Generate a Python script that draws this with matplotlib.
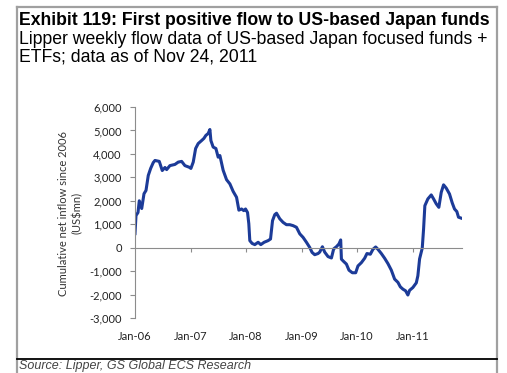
import matplotlib
matplotlib.use("Agg")
import matplotlib.pyplot as plt
from matplotlib.lines import Line2D

# weekly cumulative net inflow (US$mn), x as decimal years
years = [2006.000, 2006.018, 2006.054, 2006.077, 2006.121, 2006.162, 2006.198, 2006.239,
         2006.282, 2006.329, 2006.360, 2006.437, 2006.491, 2006.540, 2006.570, 2006.629,
         2006.719, 2006.779, 2006.840, 2006.899, 2006.977, 2007.007, 2007.049, 2007.092,
         2007.138, 2007.200, 2007.241, 2007.277, 2007.318, 2007.349, 2007.367, 2007.408,
         2007.457, 2007.498, 2007.529, 2007.588, 2007.649, 2007.709, 2007.768, 2007.829,
         2007.871, 2007.919, 2007.960, 2007.991, 2008.027, 2008.050, 2008.068, 2008.110,
         2008.158, 2008.218, 2008.266, 2008.326, 2008.397, 2008.441, 2008.477, 2008.518,
         2008.549, 2008.608, 2008.667, 2008.728, 2008.788, 2008.847, 2008.908, 2008.968,
         2009.027, 2009.088, 2009.147, 2009.189, 2009.237, 2009.297, 2009.327, 2009.376,
         2009.417, 2009.477, 2009.538, 2009.579, 2009.628, 2009.674, 2009.705, 2009.718,
         2009.759, 2009.808, 2009.854, 2009.915, 2009.975, 2010.016, 2010.077, 2010.137,
         2010.178, 2010.239, 2010.286, 2010.335, 2010.376, 2010.437, 2010.496, 2010.556,
         2010.617, 2010.676, 2010.736, 2010.779, 2010.826, 2010.874, 2010.915, 2010.946,
         2011.005, 2011.067, 2011.095, 2011.126, 2011.174, 2011.198, 2011.221, 2011.275,
         2011.336, 2011.378, 2011.426, 2011.473, 2011.516, 2011.558, 2011.606, 2011.665,
         2011.714, 2011.755, 2011.797, 2011.827, 2011.887]
flows = [600, 1370, 1500, 2000, 1670, 2300, 2440, 3080,
         3380, 3630, 3720, 3680, 3290, 3420, 3330, 3500,
         3550, 3650, 3680, 3500, 3430, 3380, 3650, 4230,
         4440, 4570, 4660, 4790, 4870, 5040, 4570, 4290,
         4230, 3860, 3930, 3300, 2900, 2720, 2400, 2150,
         1600, 1650, 1580, 1650, 1500, 1020, 300, 180,
         130, 230, 130, 230, 300, 370, 1150, 1410,
         1470, 1230, 1080, 980, 980, 940, 870, 590,
         440, 230, 10, -200, -300, -250, -190, 40,
         -190, -380, -440, -50, 40, 160, 330, -490,
         -590, -700, -960, -1070, -1070, -780, -640, -450,
         -250, -280, -70, 30, -70, -250, -450, -680,
         -960, -1340, -1480, -1670, -1770, -1840, -2020, -1820,
         -1700, -1500, -1200, -480, -20, 800, 1790, 2080,
         2250, 2080, 1870, 1720, 2360, 2680, 2540, 2290,
         1910, 1650, 1540, 1300, 1250]

xticks = [2006, 2007, 2008, 2009, 2010, 2011]
xlabels = ["Jan-06", "Jan-07", "Jan-08", "Jan-09", "Jan-10", "Jan-11"]
yticks = [-3000, -2000, -1000, 0, 1000, 2000, 3000, 4000, 5000, 6000]

W, H = 507, 373
fig = plt.figure(figsize=(W / 100, H / 100), dpi=100)


def fx(x):
    return x / W


def fy(y):
    return 1 - y / H


ax = fig.add_axes([fx(135), fy(318), fx(462) - fx(135), fy(107) - fy(318)])
ax.plot(years, flows, color="#1c3b98", lw=2.2, solid_joinstyle="round")
ax.set_xlim(2006, 2011.89)
ax.set_ylim(-3000, 6000)

axis_grey = "#8c8c8c"
for s in ["top", "right"]:
    ax.spines[s].set_visible(False)
ax.spines["left"].set_color(axis_grey)
ax.spines["bottom"].set_color(axis_grey)
ax.spines["bottom"].set_position(("data", 0))
ax.set_xticks(xticks[1:])
ax.tick_params(axis="x", length=3, color=axis_grey, labelbottom=False, direction="out")
ax.set_yticks(yticks)
ax.set_yticklabels([f"{v:,}" for v in yticks])
ax.tick_params(axis="y", length=3.5, color=axis_grey, labelsize=8, labelcolor="#222222", pad=6)
for lab in ax.get_yticklabels():
    lab.set_family("Lato")

sec = ax.secondary_xaxis(0.0)
sec.set_xticks(xticks, xlabels)
sec.tick_params(length=0, pad=9, labelsize=8, labelcolor="#222222")
sec.spines["bottom"].set_visible(False)
for lab in sec.get_xticklabels():
    lab.set_family("Lato")

fig.text(fx(70), fy(213), "Cumulative net inflow since 2006\n(US$mn)", rotation=90,
         ha="center", va="center", multialignment="center", fontsize=8,
         family="Lato", color="#333333", linespacing=1.3)

# header text
fig.text(fx(19), fy(25), "Exhibit 119: First positive flow to US-based Japan funds",
         fontsize=12.7, fontweight="bold", family="Liberation Sans", va="baseline")
fig.text(fx(19), fy(44), "Lipper weekly flow data of US-based Japan focused funds +",
         fontsize=12.7, family="Liberation Sans", va="baseline")
fig.text(fx(19), fy(61), "ETFs; data as of Nov 24, 2011",
         fontsize=12.7, family="Liberation Sans", va="baseline")
fig.text(fx(19), fy(372), "Source: Lipper, GS Global ECS Research", fontsize=9,
         style="italic", family="Liberation Sans", color="#444444", va="bottom")

# exhibit frame
frame = "#a0a0a0"
fig.add_artist(Line2D([fx(17), fx(17)], [fy(7), 0], color=frame, lw=1.6))
fig.add_artist(Line2D([fx(497), fx(497)], [fy(7), 0], color=frame, lw=1.6))
fig.add_artist(Line2D([fx(17), fx(497)], [fy(7), fy(7)], color=frame, lw=1.6))
fig.add_artist(Line2D([fx(17), fx(497)], [fy(359), fy(359)], color="black", lw=1.3))

fig.savefig("out.png", dpi=100)
